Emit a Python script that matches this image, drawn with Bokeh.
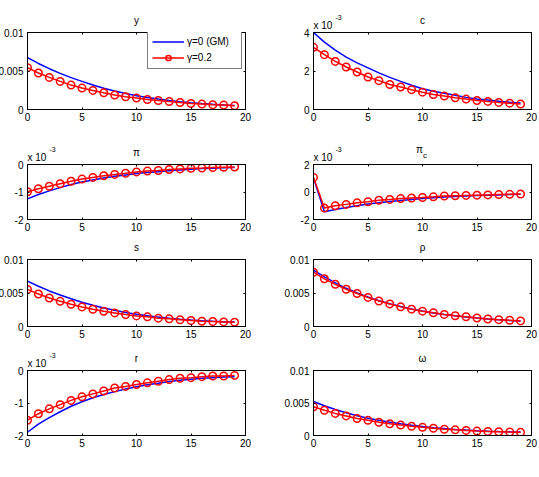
from bokeh.plotting import figure
from bokeh.layouts import column, row
from bokeh.models import Range1d, FixedTicker, LinearAxis, Label, Legend, LegendItem
from bokeh.embed import file_html
from bokeh.resources import INLINE

FONT = "Liberation Sans"

periods = [0, 1, 2, 3, 4, 5, 6, 7, 8, 9, 10, 11, 12, 13, 14, 15, 16, 17, 18, 19]
x_ticks = [0, 5, 10, 15, 20]

# y
y_gm = [0.00674, 0.00598, 0.00530, 0.00469, 0.00414, 0.00365, 0.00318, 0.00276, 0.00240, 0.00208,
        0.00180, 0.00157, 0.00136, 0.00118, 0.00102, 0.00088, 0.00077, 0.00068, 0.00060, 0.00053]
y_g02 = [0.00543, 0.00474, 0.00417, 0.00365, 0.00317, 0.00278, 0.00248, 0.00217, 0.00187, 0.00165,
         0.00148, 0.00130, 0.00117, 0.00104, 0.00091, 0.00078, 0.00070, 0.00061, 0.00057, 0.00048]
# c (x 10^-3)
c_gm = [4.00, 3.50, 3.08, 2.72, 2.42, 2.16, 1.90, 1.67, 1.46, 1.26,
        1.08, 0.95, 0.84, 0.74, 0.63, 0.55, 0.49, 0.43, 0.38, 0.34]
c_g02 = [3.23, 2.85, 2.50, 2.21, 1.95, 1.69, 1.50, 1.30, 1.17, 1.03,
         0.90, 0.78, 0.70, 0.61, 0.54, 0.47, 0.42, 0.37, 0.33, 0.28]
# pi (x 10^-3)
pi_gm = [-1.25, -1.09, -0.96, -0.84, -0.73, -0.64, -0.56, -0.49, -0.43, -0.38,
         -0.33, -0.29, -0.26, -0.23, -0.20, -0.17, -0.15, -0.14, -0.12, -0.11]
pi_g02 = [-0.99, -0.88, -0.79, -0.70, -0.61, -0.53, -0.47, -0.41, -0.36, -0.32,
          -0.27, -0.24, -0.22, -0.18, -0.16, -0.14, -0.13, -0.11, -0.10, -0.09]
# pi_c (x 10^-3)
pic_gm = [1.02, -1.44, -1.28, -1.13, -1.00, -0.88, -0.78, -0.69, -0.61, -0.54,
          -0.48, -0.42, -0.37, -0.33, -0.29, -0.26, -0.23, -0.21, -0.19, -0.17]
pic_g02 = [1.06, -1.17, -1.00, -0.90, -0.79, -0.71, -0.60, -0.54, -0.48, -0.44,
           -0.40, -0.35, -0.29, -0.27, -0.25, -0.23, -0.21, -0.19, -0.17, -0.15]
# s
s_gm = [0.00678, 0.00600, 0.00531, 0.00470, 0.00415, 0.00362, 0.00316, 0.00276, 0.00241, 0.00210,
        0.00183, 0.00160, 0.00140, 0.00123, 0.00108, 0.00096, 0.00086, 0.00078, 0.00071, 0.00066]
s_g02 = [0.00554, 0.00485, 0.00426, 0.00376, 0.00332, 0.00292, 0.00257, 0.00228, 0.00203, 0.00178,
         0.00158, 0.00144, 0.00124, 0.00114, 0.00099, 0.00089, 0.00079, 0.00074, 0.00069, 0.00064]
# rho
rho_gm = [0.00840, 0.00740, 0.00650, 0.00570, 0.00500, 0.00440, 0.00385, 0.00340, 0.00300, 0.00262,
          0.00230, 0.00203, 0.00180, 0.00160, 0.00143, 0.00127, 0.00113, 0.00101, 0.00091, 0.00082]
rho_g02 = [0.00810, 0.00712, 0.00629, 0.00556, 0.00493, 0.00434, 0.00380, 0.00337, 0.00293, 0.00259,
           0.00229, 0.00205, 0.00180, 0.00161, 0.00146, 0.00127, 0.00112, 0.00102, 0.00093, 0.00083]
# r (x 10^-3)
r_gm = [-1.90, -1.65, -1.45, -1.27, -1.10, -0.96, -0.84, -0.74, -0.65, -0.57,
        -0.50, -0.44, -0.39, -0.34, -0.30, -0.27, -0.24, -0.22, -0.20, -0.19]
r_g02 = [-1.53, -1.33, -1.18, -1.05, -0.92, -0.81, -0.72, -0.63, -0.54, -0.49,
         -0.43, -0.38, -0.33, -0.28, -0.24, -0.22, -0.19, -0.17, -0.17, -0.15]
# omega
w_gm = [0.00524, 0.00457, 0.00399, 0.00349, 0.00305, 0.00267, 0.00234, 0.00205, 0.00179, 0.00157,
        0.00137, 0.00120, 0.00106, 0.00094, 0.00083, 0.00074, 0.00066, 0.00060, 0.00056, 0.00053]
w_g02 = [0.00442, 0.00388, 0.00340, 0.00301, 0.00262, 0.00233, 0.00204, 0.00180, 0.00160, 0.00141,
         0.00126, 0.00112, 0.00097, 0.00087, 0.00078, 0.00068, 0.00063, 0.00058, 0.00053, 0.00049]

ticks_pos = [0, 0.005, 0.01]
labels_pos = ["0", "0.005", "0.01"]
ticks_c = [0, 2, 4]
labels_c = ["0", "2", "4"]
ticks_neg = [-2, -1, 0]
labels_neg = ["-2", "-1", "0"]
ticks_pic = [-2, 0, 2]
labels_pic = ["-2", "0", "2"]

titles = ["y", "c", "π", "π", "s", "ρ", "r", "ω"]
legend_labels = ["γ=0 (GM)", "γ=0.2"]

# layout geometry (px)
COLS = [dict(width=286, left=32, right=36), dict(width=256, left=32, right=6)]
ROWS = [dict(height=128, top=32, bottom=19), dict(height=107, top=28, bottom=16),
        dict(height=108, top=24, bottom=17), dict(height=112, top=24, bottom=20)]


def style_axis(ax, ticks, overrides, hidden=False, standoff=5):
    ax.ticker = FixedTicker(ticks=ticks)
    ax.minor_tick_line_color = None
    ax.major_tick_in = 2
    ax.major_tick_out = 0
    ax.major_tick_line_color = "black"
    ax.axis_line_color = "black"
    if hidden:
        ax.major_label_text_font_size = "0px"
        ax.major_label_text_color = None
        ax.major_label_standoff = 0
    else:
        ax.major_label_overrides = {t: l for t, l in zip(ticks, overrides)}
        ax.major_label_text_font = FONT
        ax.major_label_text_font_size = "10px"
        ax.major_label_text_color = "black"
        ax.major_label_standoff = standoff


def top_label(p, x, y, text, size="10px", xo=0, yo=12, align="center", baseline="middle"):
    p.add_layout(Label(x=x, y=y, x_offset=xo, y_offset=yo, text=text, text_align=align,
                       text_baseline=baseline, text_font=FONT, text_font_size=size,
                       text_color="black"), "above")


def panel(r, c, gm, g02, ylo, yhi, yt, yl, title, mult=False, legend=False, sub=None):
    col = COLS[c]
    rw = ROWS[r]
    p = figure(width=col["width"], height=rw["height"],
               x_range=Range1d(0, 20), y_range=Range1d(ylo, yhi),
               output_backend="svg", toolbar_location=None,
               min_border_left=col["left"], min_border_right=col["right"],
               min_border_top=rw["top"], min_border_bottom=rw["bottom"],
               background_fill_color="white", border_fill_color="white")
    p.outline_line_color = "black"
    p.outline_line_width = 1
    p.xgrid.visible = False
    p.ygrid.visible = False
    style_axis(p.xaxis[0], x_ticks, [str(t) for t in x_ticks], standoff=3)
    style_axis(p.yaxis[0], yt, yl, standoff=4)
    top_ax = LinearAxis()
    style_axis(top_ax, x_ticks, None, hidden=True)
    p.add_layout(top_ax, "above")
    right_ax = LinearAxis()
    style_axis(right_ax, yt, None, hidden=True)
    p.add_layout(right_ax, "right")

    bl = p.line(periods, gm, line_color="blue", line_width=1.5)
    rl = p.line(periods, g02, line_color="red", line_width=1.5)
    rs = p.scatter(periods, g02, marker="circle", size=7.5, fill_color=None,
                   line_color="red", line_width=1.5)

    if sub is None:
        top_label(p, 10, yhi, title, yo=12)
    else:
        top_label(p, 10, yhi, title, xo=-3, yo=15)
        top_label(p, 10, yhi, sub, size="8px", xo=2.5, yo=9.5)
    if mult:
        top_label(p, 0, yhi, "x 10", yo=7, align="left", baseline="alphabetic")
        top_label(p, 0, yhi, "-3", size="7px", xo=22, yo=15, align="left", baseline="alphabetic")
    if legend:
        lg = Legend(items=[LegendItem(label=legend_labels[0], renderers=[bl]),
                           LegendItem(label=legend_labels[1], renderers=[rl, rs])],
                    location=(120, 40), margin=0, padding=4, spacing=3,
                    glyph_width=32, glyph_height=13, label_height=13, label_width=50,
                    label_standoff=3, label_text_font=FONT, label_text_font_size="10px",
                    label_text_color="black",
                    border_line_color="black", border_line_width=1,
                    background_fill_color="white", background_fill_alpha=1.0)
        p.add_layout(lg)
    return p


p1 = panel(0, 0, y_gm, y_g02, 0, 0.01, ticks_pos, labels_pos, titles[0], legend=True)
p2 = panel(0, 1, c_gm, c_g02, 0, 4, ticks_c, labels_c, titles[1], mult=True)
p3 = panel(1, 0, pi_gm, pi_g02, -2, 0, ticks_neg, labels_neg, titles[2], mult=True)
p4 = panel(1, 1, pic_gm, pic_g02, -2, 2, ticks_pic, labels_pic, titles[3], mult=True, sub="c")
p5 = panel(2, 0, s_gm, s_g02, 0, 0.01, ticks_pos, labels_pos, titles[4])
p6 = panel(2, 1, rho_gm, rho_g02, 0, 0.01, ticks_pos, labels_pos, titles[5])
p7 = panel(3, 0, r_gm, r_g02, -2, 0, ticks_neg, labels_neg, titles[6], mult=True)
p8 = panel(3, 1, w_gm, w_g02, 0, 0.01, ticks_pos, labels_pos, titles[7])

layout = column(row(p1, p2), row(p3, p4), row(p5, p6), row(p7, p8),
                margin=(0, 0, 0, -5))

open("out.html", "w").write(file_html(layout, INLINE))
